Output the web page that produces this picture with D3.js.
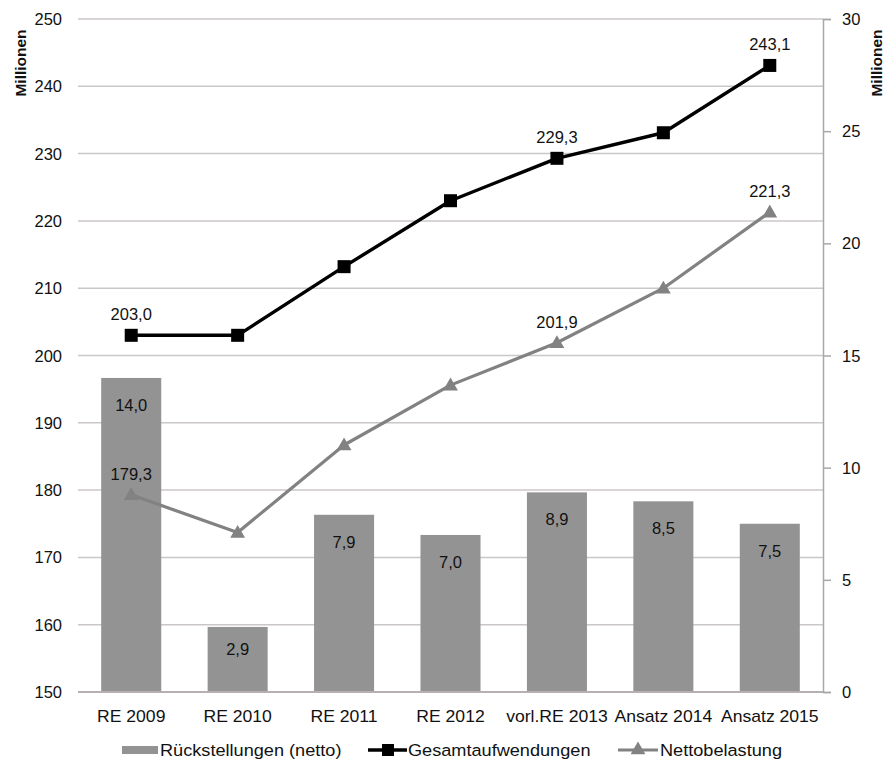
<!DOCTYPE html>
<html>
<head>
<meta charset="utf-8">
<script src="https://cdn.jsdelivr.net/npm/d3@7"></script>
<style>
  html, body { margin: 0; padding: 0; background: #fff; }
  svg { display: block; font-family: "Liberation Sans", Arial, sans-serif; }
</style>
</head>
<body>
<svg id="chart" width="886" height="760"></svg>
<script>
// Categories and series
const categories = ["RE 2009", "RE 2010", "RE 2011", "RE 2012", "vorl.RE 2013", "Ansatz 2014", "Ansatz 2015"];
const rueckstellungen = [14.0, 2.9, 7.9, 7.0, 8.9, 8.5, 7.5];          // right axis
const gesamtaufwendungen = [203.0, 203.0, 213.2, 223.0, 229.3, 233.1, 243.1]; // left axis
const nettobelastung = [179.3, 173.7, 186.7, 195.6, 201.9, 210.0, 221.3];     // left axis

// Which points carry a value label
const gesamtLabelIdx = [0, 4, 6];
const nettoLabelIdx = [0, 4, 6];

const leftTicks = [150, 160, 170, 180, 190, 200, 210, 220, 230, 240, 250];
const rightTicks = [0, 5, 10, 15, 20, 25, 30];

const legendLabels = ["Rückstellungen (netto)", "Gesamtaufwendungen", "Nettobelastung"];

const fmt = v => d3.format(".1f")(v).replace(".", ",");

const svg = d3.select("#chart");
const m = { left: 78, right: 823, top: 19, bottom: 692 };

const x = d3.scaleBand().domain(categories).range([m.left, m.right])
  .paddingInner(0.436).paddingOuter(0.218);
const yL = d3.scaleLinear().domain([150, 250]).range([m.bottom, m.top]);
const yR = d3.scaleLinear().domain([0, 30]).range([m.bottom, m.top]);
const cx = c => x(c) + x.bandwidth() / 2;

const barColor = "#939393";
const nettoColor = "#828282";
const gridColor = "#cbc7c6";
const textColor = "#111";

// Helper for horizontally widened text
function label(g, tx, ty, str, opts = {}) {
  const sx = opts.sx || 1;
  return g.append("text")
    .attr("transform", `translate(${tx},${ty}) scale(${sx},1)`)
    .attr("text-anchor", opts.anchor || "middle")
    .attr("dominant-baseline", "central")
    .attr("font-size", opts.size || 16)
    .attr("font-weight", opts.weight || "normal")
    .attr("fill", textColor)
    .text(str);
}

// Gridlines from the left axis
svg.append("g").attr("class", "grid")
  .selectAll("line").data(leftTicks.slice(1)).join("line")
  .attr("x1", m.left).attr("x2", m.right)
  .attr("y1", d => yL(d)).attr("y2", d => yL(d))
  .attr("stroke", gridColor).attr("stroke-width", 1.5);

// Left axis labels
const gL = svg.append("g");
leftTicks.forEach(t => label(gL, 62, yL(t), String(t), { anchor: "end", size: 16.5 }));

// Right axis: line, ticks and labels
const axisR = d3.axisRight(yR).tickValues(rightTicks).tickSize(8).tickFormat(d3.format("d"));
const gR = svg.append("g").attr("transform", `translate(${m.right},0)`).call(axisR);
gR.select(".domain").attr("stroke", "#a8a8a8").attr("stroke-width", 1.5);
gR.selectAll(".tick line").attr("stroke", "#a8a8a8").attr("stroke-width", 1.5);
gR.selectAll(".tick text").remove();
rightTicks.forEach(t => label(svg, 842, yR(t), String(t), { anchor: "start", size: 16.5 }));

// Bars (right axis)
svg.append("g").selectAll("rect").data(categories).join("rect")
  .attr("x", d => x(d))
  .attr("width", x.bandwidth())
  .attr("y", (d, i) => yR(rueckstellungen[i]))
  .attr("height", (d, i) => yR(0) - yR(rueckstellungen[i]))
  .attr("fill", barColor);

// Baseline
svg.append("line").attr("x1", m.left).attr("x2", m.right)
  .attr("y1", m.bottom).attr("y2", m.bottom)
  .attr("stroke", "#b5b1b0").attr("stroke-width", 2);

// Bar value labels
const gBL = svg.append("g");
categories.forEach((c, i) => {
  const h = yR(0) - yR(rueckstellungen[i]);
  label(gBL, cx(c), yR(rueckstellungen[i]) + Math.min(27, h / 3), fmt(rueckstellungen[i]), { size: 16.5 });
});

// Lines
const line = d3.line();
const nettoPts = categories.map((c, i) => [cx(c), yL(nettobelastung[i])]);
const gesamtPts = categories.map((c, i) => [cx(c), yL(gesamtaufwendungen[i])]);

svg.append("path").attr("d", line(nettoPts)).attr("fill", "none")
  .attr("stroke", nettoColor).attr("stroke-width", 3.2).attr("stroke-linejoin", "round");
const tri = d3.symbol().type(d3.symbolTriangle).size(95);
svg.append("g").selectAll("path").data(nettoPts).join("path")
  .attr("transform", d => `translate(${d[0]},${d[1] + 1})`)
  .attr("d", tri()).attr("fill", nettoColor);

svg.append("path").attr("d", line(gesamtPts)).attr("fill", "none")
  .attr("stroke", "#000").attr("stroke-width", 3.4).attr("stroke-linejoin", "round");
svg.append("g").selectAll("rect").data(gesamtPts).join("rect")
  .attr("x", d => d[0] - 6.5).attr("y", d => d[1] - 6.5)
  .attr("width", 13).attr("height", 13).attr("fill", "#000");

// Line value labels
const gLL = svg.append("g");
gesamtLabelIdx.forEach(i => label(gLL, cx(categories[i]), yL(gesamtaufwendungen[i]) - 21, fmt(gesamtaufwendungen[i]), { size: 16.5 }));
nettoLabelIdx.forEach(i => label(gLL, cx(categories[i]), yL(nettobelastung[i]) - 21, fmt(nettobelastung[i]), { size: 16.5 }));

// Category labels
const gX = svg.append("g");
categories.forEach(c => label(gX, cx(c), 717, c, { size: 16, sx: 1.1 }));

// Axis titles
svg.append("text").attr("transform", "translate(20,63) rotate(-90)")
  .attr("text-anchor", "middle").attr("dominant-baseline", "central")
  .attr("font-size", 15.5).attr("font-weight", "bold").attr("fill", textColor).text("Millionen");
svg.append("text").attr("transform", "translate(876,63) rotate(-90)")
  .attr("text-anchor", "middle").attr("dominant-baseline", "central")
  .attr("font-size", 15.5).attr("font-weight", "bold").attr("fill", textColor).text("Millionen");

// Legend
const lg = svg.append("g");
const ly = 750;
lg.append("rect").attr("x", 122).attr("y", ly - 4).attr("width", 36).attr("height", 8).attr("fill", barColor);
label(lg, 160, ly, legendLabels[0], { anchor: "start", size: 16.5, sx: 1.1 });

lg.append("line").attr("x1", 368).attr("x2", 407).attr("y1", ly).attr("y2", ly)
  .attr("stroke", "#000").attr("stroke-width", 3.4);
lg.append("rect").attr("x", 382).attr("y", ly - 6).attr("width", 12).attr("height", 12).attr("fill", "#000");
label(lg, 408, ly, legendLabels[1], { anchor: "start", size: 16.5, sx: 1.1 });

lg.append("line").attr("x1", 618).attr("x2", 658).attr("y1", ly).attr("y2", ly)
  .attr("stroke", nettoColor).attr("stroke-width", 3.2);
lg.append("path").attr("transform", `translate(638,${ly})`).attr("d", tri()).attr("fill", nettoColor);
label(lg, 660, ly, legendLabels[2], { anchor: "start", size: 16.5, sx: 1.1 });
</script>
</body>
</html>
